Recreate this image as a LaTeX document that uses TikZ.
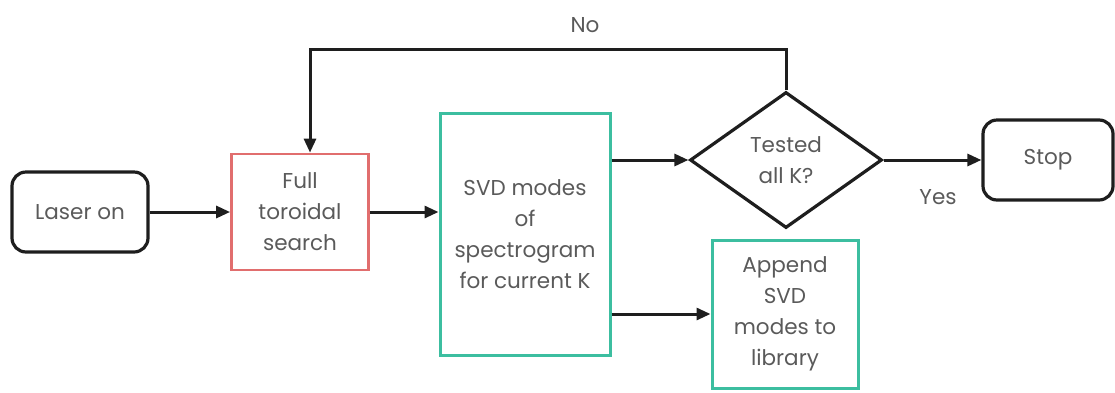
\documentclass[tikz,border=0pt]{standalone}
\usepackage{fontspec}
\setmainfont{Poppins}
\usetikzlibrary{shapes.geometric,arrows.meta}
\definecolor{txt}{RGB}{90,90,90}
\definecolor{ln}{RGB}{30,30,30}
\definecolor{redb}{RGB}{225,110,110}
\definecolor{tealb}{RGB}{60,190,160}
\begin{document}
\begin{tikzpicture}[x=1pt,y=-1pt,
  every node/.style={font=\fontsize{21.5}{31}\selectfont, text=txt, align=center},
  term/.style={draw=ln, line width=3.2pt, rounded corners=14pt, inner sep=0pt},
  redbox/.style={draw=redb, line width=2.8pt, inner sep=0pt},
  tealbox/.style={draw=tealb, line width=3pt, inner sep=0pt},
  decide/.style={draw=ln, line width=3.2pt, diamond, aspect=1.41, inner sep=0pt},
  conn/.style={draw=ln, line width=3pt, -{Triangle[length=14pt,width=12pt]}},
  lbl/.style={inner sep=0pt}]
\useasboundingbox (0,0) rectangle (1115,392);
\node[term, minimum width=136pt, minimum height=80pt] (laser) at (80,212) {Laser on};
\node[redbox, minimum width=137pt, minimum height=116pt] (full) at (300,212) {Full\\toroidal\\search};
\node[tealbox, minimum width=170pt, minimum height=242pt] (svd) at (525,234) {SVD modes\\of\\spectrogram\\for current K};
\node[decide, minimum width=192pt, minimum height=136pt] (test) at (786,160) {Tested\\all K?};
\node[tealbox, minimum width=146pt, minimum height=148pt] (append) at (785,314) {Append\\SVD\\modes to\\library};
\node[term, minimum width=130pt, minimum height=80pt] (stop) at (1048,160) {Stop};
\coordinate (loop) at (310,49);
\draw[conn] (laser.east) -- (full.west);
\draw[conn] (full.east) -- (full.east -| svd.west);
\draw[conn] (svd.east |- test.west) -- (test.west);
\draw[conn] (svd.east |- append.west) -- (append.west);
\draw[conn] (test.east) -- (stop.west);
\draw[conn] (test.north) |- (loop) -- (loop |- full.north);
\node[lbl] (no) at (585,25) {No};
\node[lbl] (yes) at (938,197) {Yes};
\end{tikzpicture}
\end{document}
